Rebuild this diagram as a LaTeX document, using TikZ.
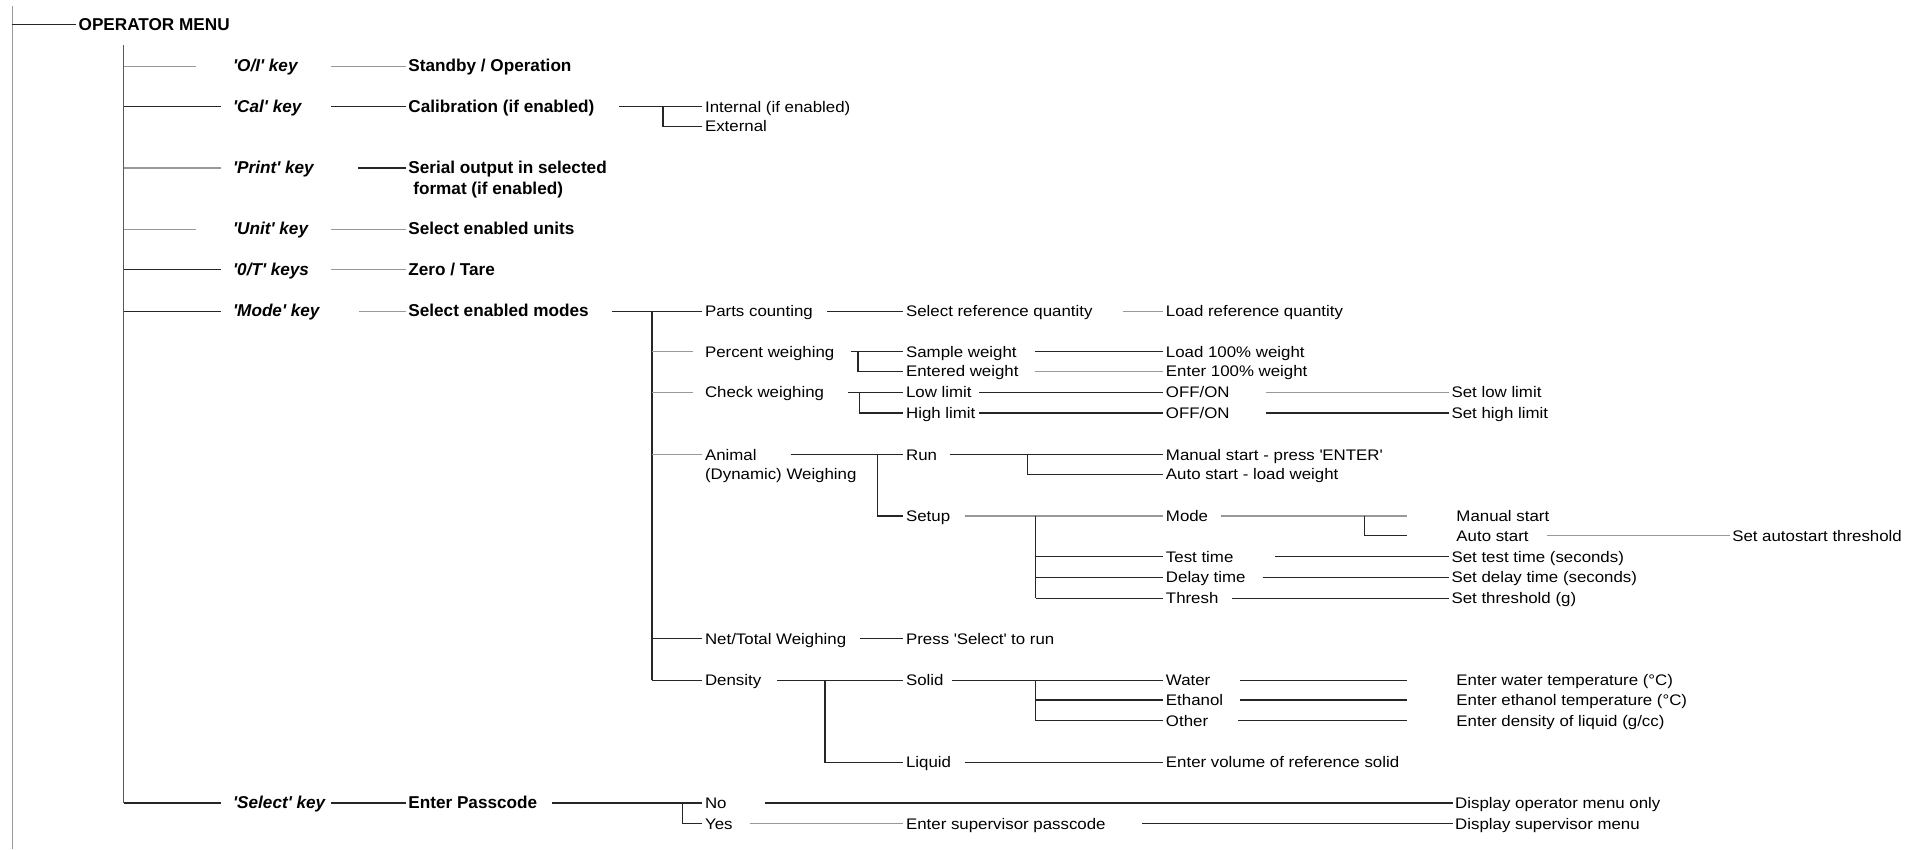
\documentclass[tikz,border=0pt]{standalone}
\usepackage{fontspec}
\setmainfont{Liberation Sans}
\newfontfamily\regf{Liberation Sans}[FakeStretch=1.1]
\newfontfamily\boldf{Liberation Sans}
\newcommand{\q}{\textquotesingle}
\tikzset{
  lab/.style={anchor=west, inner xsep=2pt, inner ysep=0pt, text height=9pt, text depth=0pt,
    font=\regf\fontsize{12.5}{14}\selectfont},
  blab/.style={lab, font=\boldf\bfseries\fontsize{14}{16}\selectfont},
  klab/.style={lab, font=\boldf\bfseries\itshape\fontsize{14}{16}\selectfont},
  gl/.style={draw=black!40, line width=1.1pt},
  bl/.style={draw=black!85, line width=1.1pt},
}
\begin{document}
\begin{tikzpicture}[x=1pt,y=-1pt]
\useasboundingbox (0,0) rectangle (1568,693);
% main verticals
\coordinate (v1t) at (10,5); \coordinate (v1b) at (10,693);
\draw[gl] (v1t) -- (v1b);
\node[blab] (root) at (62,20) {OPERATOR MENU};
\draw[bl] (v1t |- root) -- (root.west);
\coordinate (v2) at (101,37); \coordinate (v2b) at (101,655);
\draw[draw=black!65, line width=1.1pt] (v2) -- (v2b);
% row 1
\node[klab] (kOI) at (188,54) {\q O/I\q{} key};
\draw[gl] (v2 |- kOI) -- (160,0 |- kOI);
\node[blab] (nSO) at (331,54) {Standby / Operation};
\draw[gl] (270,0 |- nSO) -- (nSO.west);
% row 2
\node[klab] (kCal) at (188,87) {\q Cal\q{} key};
\draw[bl] (v2 |- kCal) -- (180,0 |- kCal);
\node[blab] (nCal) at (331,87) {Calibration (if enabled)};
\draw[bl] (270,0 |- nCal) -- (nCal.west);
\node[lab] (nInt) at (573,87) {Internal (if enabled)};
\node[lab] (nExt) at (573,103) {External};
\coordinate (jCal) at (541,87);
\draw[bl] (505,0 |- nCal) -- (nInt.west);
\draw[bl] (jCal) |- (nExt.west);
% row 3
\node[klab] (kPr) at (188,137) {\q Print\q{} key};
\draw[gl] (v2 |- kPr) -- (180,0 |- kPr);
\node[blab] (nSer) at (331,137) {Serial output in selected};
\node[blab] (nSer2) at (335,154) {format (if enabled)};
\draw[bl] (292,0 |- nSer) -- (nSer.west);
% row 4
\node[klab] (kUn) at (188,187) {\q Unit\q{} key};
\draw[gl] (v2 |- kUn) -- (160,0 |- kUn);
\node[blab] (nUn) at (331,187) {Select enabled units};
\draw[gl] (270,0 |- nUn) -- (nUn.west);
% row 5
\node[klab] (k0T) at (188,220) {\q 0/T\q{} keys};
\draw[bl] (v2 |- k0T) -- (180,0 |- k0T);
\node[blab] (nZT) at (331,220) {Zero / Tare};
\draw[gl] (270,0 |- nZT) -- (nZT.west);
% row 6
\node[klab] (kMo) at (188,254) {\q Mode\q{} key};
\draw[bl] (v2 |- kMo) -- (180,0 |- kMo);
\node[blab] (nMo) at (331,254) {Select enabled modes};
\draw[gl] (293,0 |- nMo) -- (nMo.west);
% modes
\node[lab] (mPC) at (573,254) {Parts counting};
\node[lab] (mPW) at (573,287) {Percent weighing};
\node[lab] (mCW) at (573,320) {Check weighing};
\node[lab] (mAn) at (573,371) {Animal};
\node[lab] (mAn2) at (573,387) {(Dynamic) Weighing};
\node[lab] (mNT) at (573,521) {Net/Total Weighing};
\node[lab] (mDe) at (573,555) {Density};
\coordinate (v3) at (532,254);
\draw[bl] (499,0 |- nMo) -- (mPC.west);
\draw[bl] (v3) -- (v3 |- mDe);
\draw[gl] (v3 |- mPW) -- (565,0 |- mPW);
\draw[gl] (v3 |- mCW) -- (565,0 |- mCW);
\draw[gl] (v3 |- mAn) -- (mAn.west);
\draw[bl] (v3 |- mNT) -- (mNT.west);
\draw[bl] (v3 |- mDe) -- (mDe.west);
% parts counting
\node[lab] (pSR) at (737,254) {Select reference quantity};
\node[lab] (pLR) at (949,254) {Load reference quantity};
\draw[bl] (675,0 |- mPC) -- (pSR.west);
\draw[gl] (916,0 |- pSR) -- (pLR.west);
% percent weighing
\node[lab] (pSW) at (737,287) {Sample weight};
\node[lab] (pEW) at (737,303) {Entered weight};
\node[lab] (pL100) at (949,287) {Load 100\% weight};
\node[lab] (pE100) at (949,303) {Enter 100\% weight};
\coordinate (jPW) at (700,287);
\draw[bl] (694,0 |- mPW) -- (pSW.west);
\draw[bl] (jPW) |- (pEW.west);
\draw[bl] (844,0 |- pSW) -- (pL100.west);
\draw[gl] (844,0 |- pEW) -- (pE100.west);
% check weighing
\node[lab] (cLL) at (737,320) {Low limit};
\node[lab] (cHL) at (737,337) {High limit};
\node[lab] (cOF1) at (949,320) {OFF/ON};
\node[lab] (cOF2) at (949,337) {OFF/ON};
\node[lab] (cSL) at (1182,320) {Set low limit};
\node[lab] (cSH) at (1182,337) {Set high limit};
\coordinate (jCW) at (701,320);
\draw[bl] (692,0 |- mCW) -- (cLL.west);
\draw[bl] (jCW) |- (cHL.west);
\draw[bl] (799,0 |- cLL) -- (cOF1.west);
\draw[bl] (799,0 |- cHL) -- (cOF2.west);
\draw[gl] (1033,0 |- cOF1) -- (cSL.west);
\draw[bl] (1033,0 |- cOF2) -- (cSH.west);
% animal
\node[lab] (aRun) at (737,371) {Run};
\node[lab] (aSet) at (737,421) {Setup};
\coordinate (jAn) at (716,371);
\draw[bl] (645,0 |- mAn) -- (aRun.west);
\draw[bl] (jAn) |- (aSet.west);
\node[lab] (aMS) at (949,371) {Manual start - press \q ENTER\q};
\node[lab] (aAS) at (949,387) {Auto start - load weight};
\coordinate (jRun) at (838,371);
\draw[bl] (775,0 |- aRun) -- (aMS.west);
\draw[bl] (jRun) |- (aAS.west);
\node[lab] (sMo) at (949,421) {Mode};
\node[lab] (sTT) at (949,454) {Test time};
\node[lab] (sDT) at (949,471) {Delay time};
\node[lab] (sTh) at (949,488) {Thresh};
\coordinate (jSet) at (845,421);
\draw[gl] (787,0 |- aSet) -- (sMo.west);
\draw[bl] (jSet) -- (jSet |- sTh);
\draw[bl] (jSet |- sTT) -- (sTT.west);
\draw[bl] (jSet |- sDT) -- (sDT.west);
\draw[bl] (jSet |- sTh) -- (sTh.west);
\node[lab] (sMan) at (1186,421) {Manual start};
\node[lab] (sAut) at (1186,437) {Auto start};
\node[lab] (sAT) at (1411,437) {Set autostart threshold};
\coordinate (jMo) at (1113,421);
\coordinate (eMo) at (1148,437);
\draw[gl] (996,0 |- sMo) -- (1148,0 |- sMo);
\draw[bl] (jMo) |- (eMo);
\draw[gl] (1262,0 |- sAut) -- (sAT.west);
\node[lab] (sSTT) at (1182,454) {Set test time (seconds)};
\node[lab] (sSDT) at (1182,471) {Set delay time (seconds)};
\node[lab] (sSTh) at (1182,488) {Set threshold (g)};
\draw[bl] (1040,0 |- sTT) -- (sSTT.west);
\draw[bl] (1030,0 |- sDT) -- (sSDT.west);
\draw[bl] (1005,0 |- sTh) -- (sSTh.west);
% net/total
\node[lab] (nPS) at (737,521) {Press \q Select\q{} to run};
\draw[bl] (702,0 |- mNT) -- (nPS.west);
% density
\node[lab] (dSo) at (737,555) {Solid};
\node[lab] (dLi) at (737,622) {Liquid};
\coordinate (jDe) at (673,555);
\draw[bl] (634,0 |- mDe) -- (dSo.west);
\draw[bl] (jDe) |- (dLi.west);
\node[lab] (dWa) at (949,555) {Water};
\node[lab] (dEt) at (949,571) {Ethanol};
\node[lab] (dOt) at (949,588) {Other};
\coordinate (jSo) at (845,555);
\draw[bl] (777,0 |- dSo) -- (dWa.west);
\draw[bl] (jSo) -- (jSo |- dOt);
\draw[bl] (jSo |- dEt) -- (dEt.west);
\draw[bl] (jSo |- dOt) -- (dOt.west);
\node[lab] (dEW) at (1186,555) {Enter water temperature (°C)};
\node[lab] (dEE) at (1186,571) {Enter ethanol temperature (°C)};
\node[lab] (dED) at (1186,588) {Enter density of liquid (g/cc)};
\draw[bl] (1012,0 |- dWa) -- (1148,0 |- dWa);
\draw[bl] (1012,0 |- dEt) -- (1148,0 |- dEt);
\draw[bl] (1010,0 |- dOt) -- (1148,0 |- dOt);
\node[lab] (dEV) at (949,622) {Enter volume of reference solid};
\draw[bl] (787,0 |- dLi) -- (dEV.west);
% row 7
\node[klab] (kSel) at (188,655) {\q Select\q{} key};
\draw[bl] (v2b) -- (180,0 |- kSel);
\node[blab] (nEP) at (331,655) {Enter Passcode};
\draw[bl] (270,0 |- nEP) -- (nEP.west);
\node[lab] (eNo) at (573,655) {No};
\node[lab] (eYes) at (573,672) {Yes};
\coordinate (jEP) at (557,655);
\draw[bl] (450,0 |- nEP) -- (eNo.west);
\draw[bl] (jEP) |- (eYes.west);
\node[lab] (eDO) at (1185,655) {Display operator menu only};
\node[lab] (eSP) at (737,672) {Enter supervisor passcode};
\node[lab] (eDS) at (1185,672) {Display supervisor menu};
\draw[bl] (624,0 |- eNo) -- (eDO.west);
\draw[gl] (612,0 |- eYes) -- (eSP.west);
\draw[bl] (932,0 |- eSP) -- (eDS.west);
\end{tikzpicture}
\end{document}
